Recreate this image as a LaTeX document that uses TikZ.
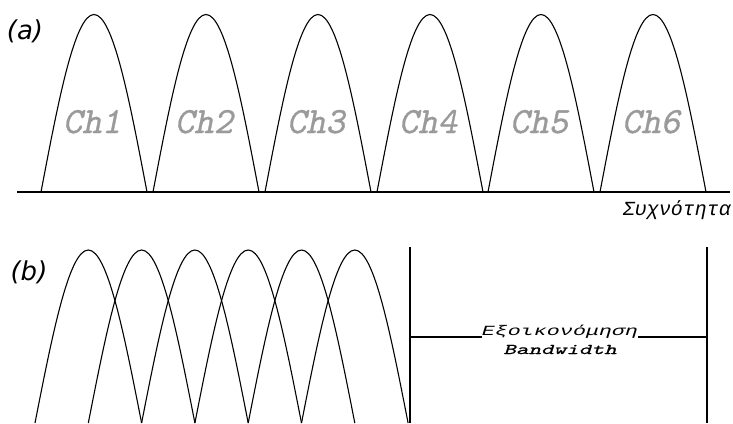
\documentclass[tikz,border=0pt]{standalone}
\usepackage{fontspec}
\setmainfont{Liberation Serif}
\newfontfamily\monofam{Liberation Mono}
\newfontfamily\labfam{DejaVu Sans}
\newfontfamily\chfam[Extension=.otf,FakeSlant=0.2,FakeBold=0.8]{lmmono10-regular}
\newfontfamily\bwfam[Extension=.otf,FakeSlant=0.2,FakeBold=0.7]{lmmono10-regular}
\definecolor{chgray}{HTML}{9A9A9A}
\begin{document}
\begin{tikzpicture}[x=1pt,y=-1pt,
  arch/.style={draw=black,line width=1.1pt},
  axis/.style={draw=black,line width=1.5pt},
  bar/.style={draw=black,line width=2.2pt},
  chlabel/.style={text=chgray,font=\chfam\fontsize{37}{37}\selectfont,inner sep=0pt,anchor=base},
  partlabel/.style={font=\labfam\itshape\fontsize{26}{26}\selectfont,inner sep=0pt},
  greek/.style={font=\monofam\itshape\fontsize{20}{20}\selectfont,inner sep=0pt,anchor=base},
  small/.style={font=\monofam\itshape\fontsize{14}{14}\selectfont,inner sep=0pt,anchor=base},
  smalltt/.style={font=\bwfam\fontsize{15}{15}\selectfont,inner sep=0pt,anchor=base}]
\useasboundingbox (0,0) rectangle (733,423);

% (a)
\node[partlabel] (la) at (25,31) {(a)};
\coordinate (a0) at (17,192);
\coordinate (a1) at (730,192);
\draw[axis] (a0) -- (a1);
\foreach \i/\L in {1/41,2/153,3/265,4/377,5/488,6/600}{
  \draw[arch] (\L,192) sin ({\L+53},14.5) cos ({\L+106},192);
  \node[chlabel] (ch\i) at ({\L+51},133) {Ch\i};
}
\node[greek,anchor=base east] (freq) at (731,215) {Συχνότητα};

% (b)
\node[partlabel] (lb) at (29,272) {(b)};
\foreach \k in {0,...,5}{
  \pgfmathsetmacro{\L}{35+53.3*\k}
  \draw[arch] (\L,423) sin ({\L+53.3},250) cos ({\L+106.6},423);
}
\coordinate (v1t) at (410,247);
\coordinate (v1b) at (410,423);
\coordinate (v2t) at (707,247);
\coordinate (v2b) at (707,423);
\draw[bar] (v1t) -- (v1b);
\draw[bar] (v2t) -- (v2b);
\node[small] (sav) at (560,335) {\scalebox{1.55}[1]{Εξοικονόμηση}};
\node[smalltt] (bw) at (560,354) {\scalebox{1.6}[1]{Bandwidth}};
\coordinate (h1) at (410,337);
\coordinate (h2) at (707,337);
\draw[draw=black,line width=1.8pt] (h1) -- (h1 -| sav.west);
\draw[draw=black,line width=1.8pt] (h2 -| sav.east) -- (h2);
\end{tikzpicture}
\end{document}
